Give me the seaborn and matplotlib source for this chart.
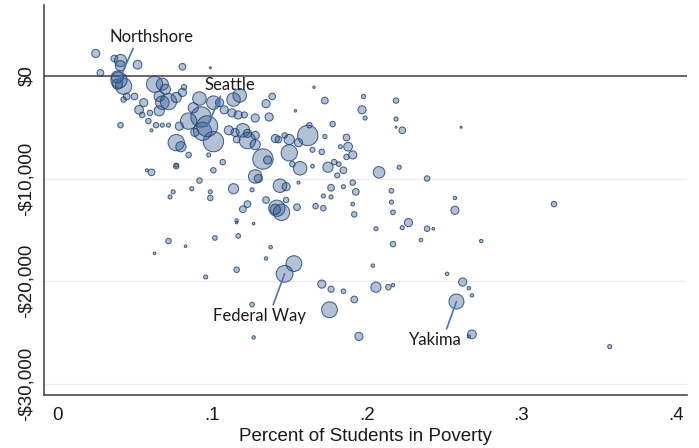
import matplotlib
matplotlib.use("Agg")
import matplotlib.pyplot as plt
import numpy as np
import pandas as pd
import seaborn as sns

# District-level values: share of students in poverty, per-pupil funding gap ($),
# and enrollment (thousands of students) which sets bubble area.
poverty = [
    0.025, 0.028, 0.037, 0.041, 0.041, 0.052, 0.039, 0.043, 0.039, 0.045,
    0.043, 0.050, 0.056, 0.053, 0.055, 0.059, 0.041, 0.061, 0.064, 0.068,
    0.072, 0.081, 0.099, 0.063, 0.068, 0.070, 0.066, 0.068, 0.066, 0.072,
    0.077, 0.081, 0.082, 0.079, 0.060, 0.085, 0.092, 0.088, 0.093, 0.101,
    0.077, 0.080, 0.085, 0.077, 0.098, 0.101, 0.094, 0.089, 0.061, 0.058,
    0.092, 0.087, 0.075, 0.073, 0.099, 0.099, 0.101, 0.077, 0.108, 0.105,
    0.114, 0.118, 0.113, 0.117, 0.121, 0.128, 0.135, 0.139, 0.137, 0.154,
    0.166, 0.173, 0.111, 0.115, 0.120, 0.123, 0.128, 0.116, 0.123, 0.128,
    0.133, 0.136, 0.141, 0.143, 0.147, 0.150, 0.156, 0.150, 0.162, 0.163,
    0.173, 0.171, 0.157, 0.152, 0.165, 0.175, 0.179, 0.182, 0.183, 0.185,
    0.178, 0.187, 0.188, 0.191, 0.128, 0.130, 0.144, 0.148, 0.114, 0.126,
    0.156, 0.107, 0.135, 0.123, 0.120, 0.142, 0.145, 0.141, 0.155, 0.167,
    0.172, 0.172, 0.177, 0.177, 0.185, 0.191, 0.193, 0.191, 0.192, 0.208,
    0.198, 0.197, 0.199, 0.219, 0.219, 0.223, 0.261, 0.221, 0.239, 0.216,
    0.216, 0.217, 0.257, 0.257, 0.321, 0.227, 0.223, 0.206, 0.239, 0.243,
    0.235, 0.217, 0.274, 0.204, 0.252, 0.262, 0.266, 0.268, 0.206, 0.214,
    0.217, 0.192, 0.195, 0.268, 0.266, 0.357, 0.116, 0.116, 0.127, 0.072,
    0.083, 0.063, 0.102, 0.117, 0.138, 0.135, 0.153, 0.116, 0.096, 0.171,
    0.177, 0.185, 0.176, 0.126, 0.127, 0.148, 0.187, 0.181, 0.165, 0.219,
]
funding_gap = [
    2200, 300, 1700, 1500, 1000, 1100, -100, -1000, -800, -2000,
    -2300, -2000, -2600, -3300, -3800, -4400, -4800, -5300, -4800, -4800,
    -4800, 900, 800, -800, -800, -1300, -2000, -2600, -3400, -2500,
    -2100, -1600, -1100, -4900, -3600, -4400, -2200, -3100, -4000, -6400,
    -6500, -6900, -7700, -8800, -7700, -2600, -5400, -5500, -9400, -9200,
    -10200, -11000, -11300, -11800, -11300, -11900, -9200, -8700, -3300, -2600,
    -2300, -1900, -3600, -3800, -3800, -4100, -2700, -2000, -4000, -3400,
    -1100, -2400, -5300, -5500, -5300, -5600, -5800, -6200, -6300, -6700,
    -8100, -8200, -6100, -6200, -5800, -6200, -6500, -7500, -5800, -4800,
    -5900, -7400, -9000, -8600, -8800, -8900, -8400, -8600, -6900, -9200,
    -4700, -6000, -6900, -7700, -9800, -10000, -10700, -10800, -11000, -11100,
    -10400, -8400, -12100, -12500, -13000, -12900, -13300, -13000, -12800, -12700,
    -12900, -11700, -11800, -10900, -10800, -10400, -11300, -12500, -13500, -9400,
    -2000, -3300, -4100, -2400, -4200, -5300, -5000, -8900, -10000, -11200,
    -12300, -13300, -11900, -13100, -12500, -14300, -14800, -14900, -14900, -14900,
    -16000, -16400, -16100, -18500, -19300, -20100, -20700, -21400, -20600, -20600,
    -20400, -21800, -25400, -25200, -25400, -26400, -14100, -14300, -14400, -16100,
    -16600, -17300, -15800, -15600, -16700, -17800, -18300, -18900, -19600, -20300,
    -20800, -21000, -22800, -22300, -25500, -12100, -7900, -9700, -7200, -5000,
]
enrollment = [
    8, 5.4, 5.4, 18, 12.5, 9.2, 18, 32, 12.5, 5.4,
    3.6, 5.4, 8, 9.2, 3.6, 3.6, 3.6, 1.1, 3.6, 2,
    2, 5.4, 0.5, 32, 18, 12.5, 12.5, 22, 12.5, 32,
    12.5, 8, 3.6, 8, 3.6, 32, 22, 12.5, 50, 50,
    32, 12.5, 3.6, 3.6, 2, 22, 40, 8, 5.4, 1.1,
    3.6, 2, 2, 2, 2, 3.6, 3.6, 2, 8, 8,
    22, 22, 8, 8, 4.5, 8, 8, 5.4, 8, 0.7,
    0.7, 5.4, 10, 8, 22, 8, 8, 5.4, 32, 12.5,
    50, 8, 8, 5.4, 3.6, 12.5, 8, 32, 50, 3.6,
    2, 3.6, 22, 3.6, 1.6, 12.5, 3.6, 2.6, 2, 5.4,
    3.6, 5.4, 9.2, 8, 22, 8, 22, 8, 12.5, 2,
    1.1, 3.6, 5.4, 5.4, 5.4, 32, 32, 12.5, 5.4, 3.6,
    3.6, 2, 2, 5.4, 2, 3.6, 5.4, 1.6, 3.6, 16,
    2, 8, 2, 3.6, 2, 5.4, 0.5, 2, 3.6, 2.6,
    2, 2.6, 1.4, 8, 3.6, 8, 2, 2, 3.6, 0.8,
    1.4, 3.6, 1.4, 1.4, 1.4, 8, 1.4, 1.4, 12.5, 3.6,
    1.4, 5.4, 8, 9.2, 1.1, 2, 1.4, 0.8, 0.8, 3.6,
    0.8, 0.8, 2.6, 2.6, 1.4, 1.4, 30, 3.6, 2, 8,
    4.5, 2.6, 30, 2.6, 1.4, 3.6, 3.6, 3.1, 3.1, 0.5,
]

# Districts called out on the chart
named_district = ["Northshore", "Seattle", "Federal Way", "Yakima"]
named_poverty = [0.040, 0.097, 0.147, 0.258]
named_gap = [-400, -4900, -19300, -22000]
named_enrollment = [32, 53, 34, 27]

x_ticks = [0, 0.1, 0.2, 0.3, 0.4]
x_tick_labels = ["0", ".1", ".2", ".3", ".4"]
y_ticks = [0, -10000, -20000, -30000]
y_tick_labels = ["$0", "-$10,000", "-$20,000", "-$30,000"]

df = pd.DataFrame({
    "district": [""] * len(poverty) + named_district,
    "poverty": poverty + named_poverty,
    "gap": funding_gap + named_gap,
    "enrollment": enrollment + named_enrollment,
})

sns.set_style("white")
plt.rcParams["font.family"] = ["Liberation Sans", "DejaVu Sans"]

fig = plt.figure(figsize=(6.99, 4.48), dpi=100)
ax = fig.add_axes([0.063, 0.118, 0.920, 0.871])

navy = (0.17, 0.33, 0.55)
ink = "#1a1a1a"
axis_font = ["Liberation Sans", "DejaVu Sans"]

# light horizontal grid and the zero reference line
for yv in y_ticks[1:]:
    ax.axhline(yv, color="#e8edf2", lw=0.9, zorder=0)
ax.axhline(0, color="#5a5a5a", lw=1.3, zorder=1)

size_max = 60
sns.scatterplot(
    data=df, x="poverty", y="gap", size="enrollment",
    sizes=(0, 4.3 * size_max), size_norm=(0, size_max),
    legend=False, ax=ax, zorder=3,
)
pts = ax.collections[-1]
pts.set_alpha(None)
pts.set_facecolor((*navy, 0.36))
pts.set_edgecolor((0.13, 0.25, 0.43, 0.8))
pts.set_linewidth(0.75)

# labels with leader lines
label_spec = {
    "Northshore": ((0.061, 3800), (0.3, 0.0)),
    "Seattle": ((0.1114, -880), (0.35, 0.0)),
    "Federal Way": ((0.131, -23420), (0.63, 1.0)),
    "Yakima": ((0.2444, -25770), (0.69, 1.0)),
}
for name, px, gy in zip(named_district, named_poverty, named_gap):
    (tx, ty), rel = label_spec[name]
    ax.annotate(
        name, xy=(px, gy), xytext=(tx, ty), ha="center", va="center",
        fontsize=12, family=["Lato", "DejaVu Sans"], color=ink, zorder=5,
        arrowprops=dict(arrowstyle="-", color="#4a72c0", lw=1.2,
                        shrinkA=0, shrinkB=0, relpos=rel),
    )

ax.set_xlim(-0.0084, 0.407)
ax.set_ylim(-31130, 6930)
ax.set_xticks(x_ticks)
ax.set_xticklabels(x_tick_labels, family=axis_font)
ax.set_yticks(y_ticks)
ax.set_yticklabels(y_tick_labels, rotation=90, va="center", family=axis_font)
ax.tick_params(axis="both", direction="out", length=4.5, width=1.0,
               color="#4a4a4a", labelsize=13.5, labelcolor=ink)
ax.tick_params(axis="x", pad=4)
ax.tick_params(axis="y", pad=2)
ax.set_xlabel("Percent of Students in Poverty", fontsize=13.5, color=ink,
              labelpad=3, family=axis_font)
ax.set_ylabel("")

sns.despine(ax=ax)
for side in ("left", "bottom"):
    ax.spines[side].set_color("#4a4a4a")
    ax.spines[side].set_linewidth(1.2)

fig.savefig("out.png", dpi=100)
